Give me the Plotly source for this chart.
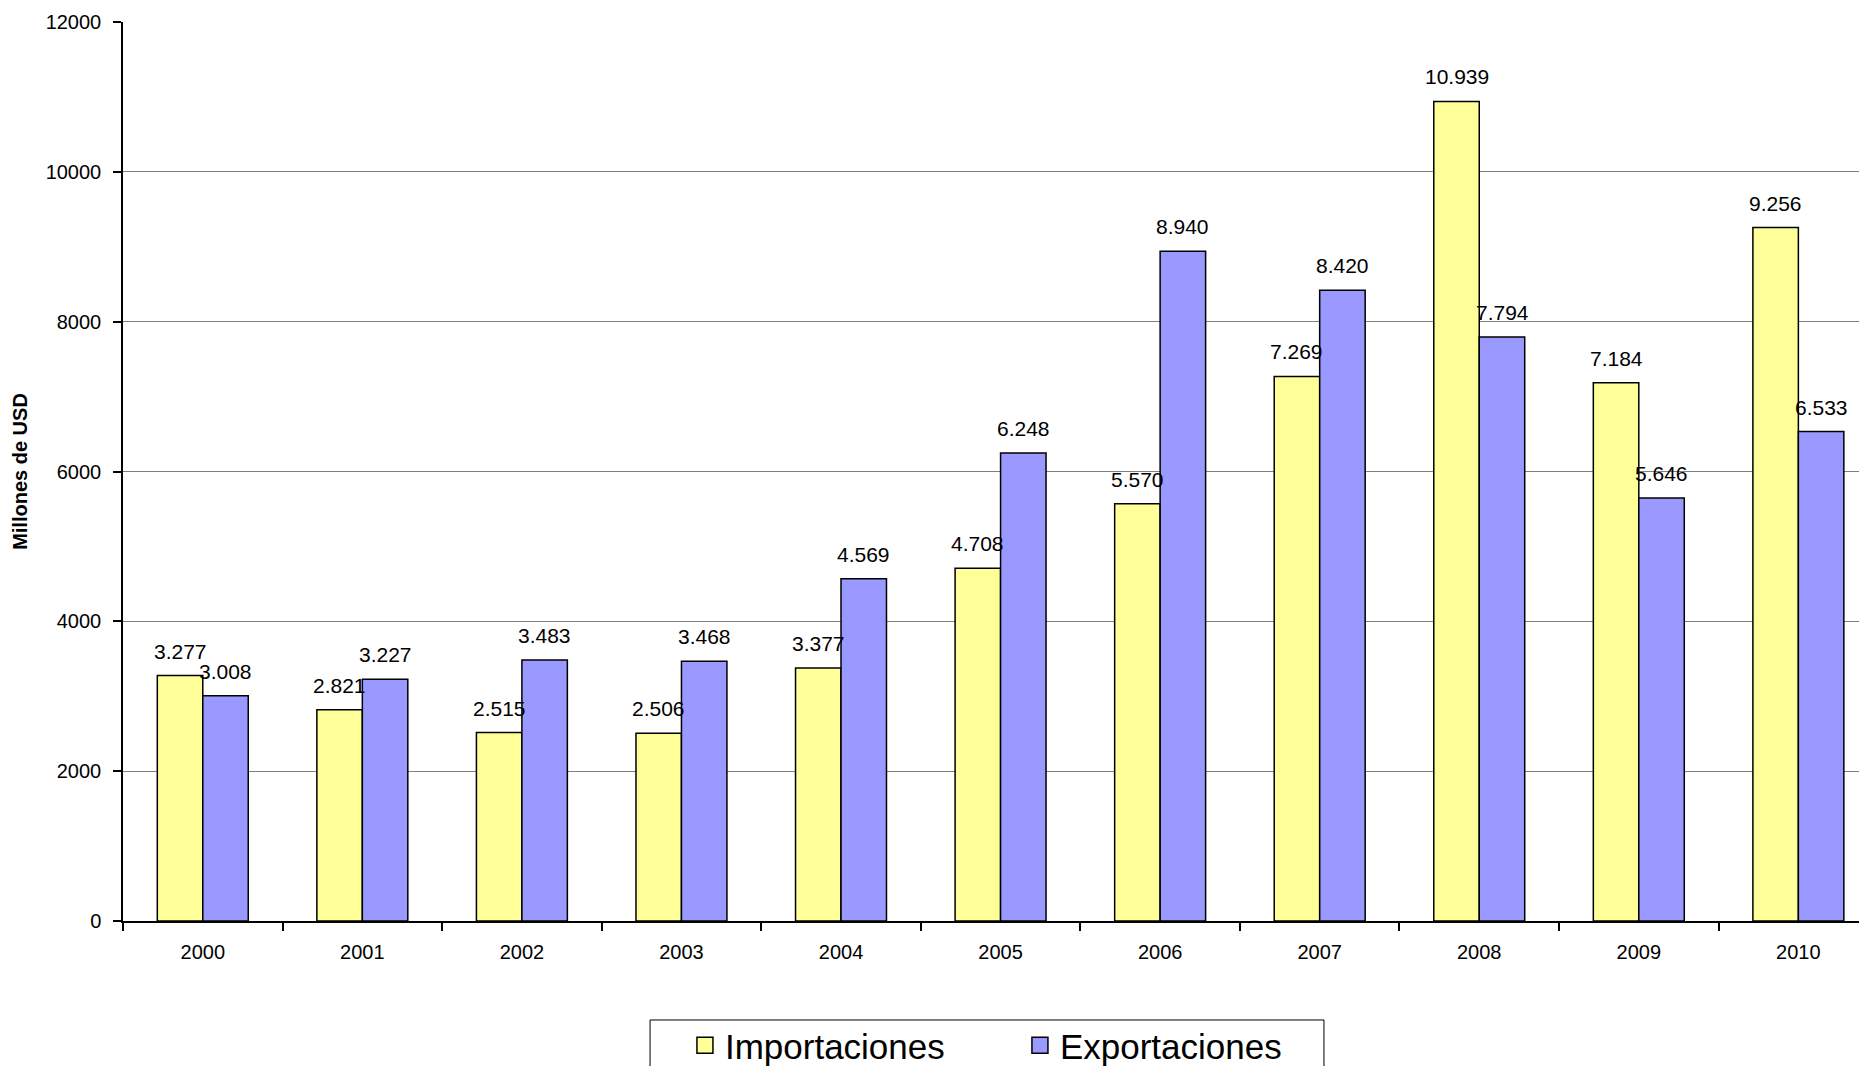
import plotly.graph_objects as go

years = ["2000", "2001", "2002", "2003", "2004", "2005", "2006", "2007", "2008", "2009", "2010"]
importaciones = [3277, 2821, 2515, 2506, 3377, 4708, 5570, 7269, 10939, 7184, 9256]
exportaciones = [3008, 3227, 3483, 3468, 4569, 6248, 8940, 8420, 7794, 5646, 6533]
y_ticks = [0, 2000, 4000, 6000, 8000, 10000, 12000]

FONT = "Arial, Liberation Sans, sans-serif"
YELLOW = "#FFFF99"
BLUE = "#9999FF"

fig = go.Figure()
fig.add_trace(go.Bar(x=years, y=importaciones, name="Importaciones", showlegend=False,
                     marker=dict(color=YELLOW, line=dict(color="black", width=1.5))))
fig.add_trace(go.Bar(x=years, y=exportaciones, name="Exportaciones", showlegend=False,
                     marker=dict(color=BLUE, line=dict(color="black", width=1.5))))
# legend entries with larger square swatches
fig.add_trace(go.Scatter(x=[None], y=[None], mode="markers", name="Importaciones",
                         marker=dict(symbol="square", size=22, color=YELLOW,
                                     line=dict(color="black", width=1.5))))
fig.add_trace(go.Scatter(x=[None], y=[None], mode="markers", name="Exportaciones",
                         marker=dict(symbol="square", size=22, color=BLUE,
                                     line=dict(color="black", width=1.5))))

def fmt(v):
    return f"{v:,}".replace(",", ".")

BAR_HALF = 22.75
annotations = []
for i, v in enumerate(importaciones):
    annotations.append(dict(x=i, y=v, xref="x", yref="y", text=fmt(v), showarrow=False,
                            xshift=-BAR_HALF, yshift=11, yanchor="bottom",
                            font=dict(family=FONT, size=21, color="black")))
for i, v in enumerate(exportaciones):
    annotations.append(dict(x=i, y=v, xref="x", yref="y", text=fmt(v), showarrow=False,
                            xshift=BAR_HALF, yshift=11, yanchor="bottom",
                            font=dict(family=FONT, size=21, color="black")))

# legend frame
shapes = [dict(type="rect", xref="paper", yref="paper", x0=0.3036, x1=0.6918, y0=-0.25, y1=-0.1101,
               line=dict(color="black", width=1), fillcolor="rgba(0,0,0,0)", layer="below")]

fig.update_layout(
    width=1851, height=1058,
    margin=dict(l=115, r=0, t=14, b=145, autoexpand=False),
    paper_bgcolor="white", plot_bgcolor="white",
    barmode="group", bargap=0.43, bargroupgap=0,
    font=dict(family=FONT, size=20, color="black"),
    annotations=annotations,
    shapes=shapes,
    showlegend=True,
    legend=dict(orientation="h", x=0.3237, xanchor="left", y=-0.1057, yanchor="top",
                font=dict(family=FONT, size=35, color="black"),
                borderwidth=0, bgcolor="rgba(0,0,0,0)",
                entrywidth=290, entrywidthmode="pixels", itemsizing="trace"),
    xaxis=dict(type="category", range=[-0.5, 10.38], showline=True, linecolor="black", linewidth=1.5,
               ticks="outside", tickson="boundaries", ticklen=8, tickcolor="black", tickwidth=1.5,
               showgrid=False, tickfont=dict(family=FONT, size=20, color="black"),
               ticklabelstandoff=12),
    yaxis=dict(range=[0, 12000], tickvals=y_ticks, tickformat="d", showline=True, linecolor="black",
               linewidth=1.5, ticks="outside", ticklen=8, tickcolor="black", tickwidth=1.5,
               showgrid=True, gridcolor="#808080", gridwidth=1.2, zeroline=False,
               tickfont=dict(family=FONT, size=20, color="black"), ticklabelstandoff=8,
               title=dict(text="<b>Millones de USD</b>", font=dict(family=FONT, size=20, color="black"),
                          standoff=13)),
)

fig.write_html("out.html")
